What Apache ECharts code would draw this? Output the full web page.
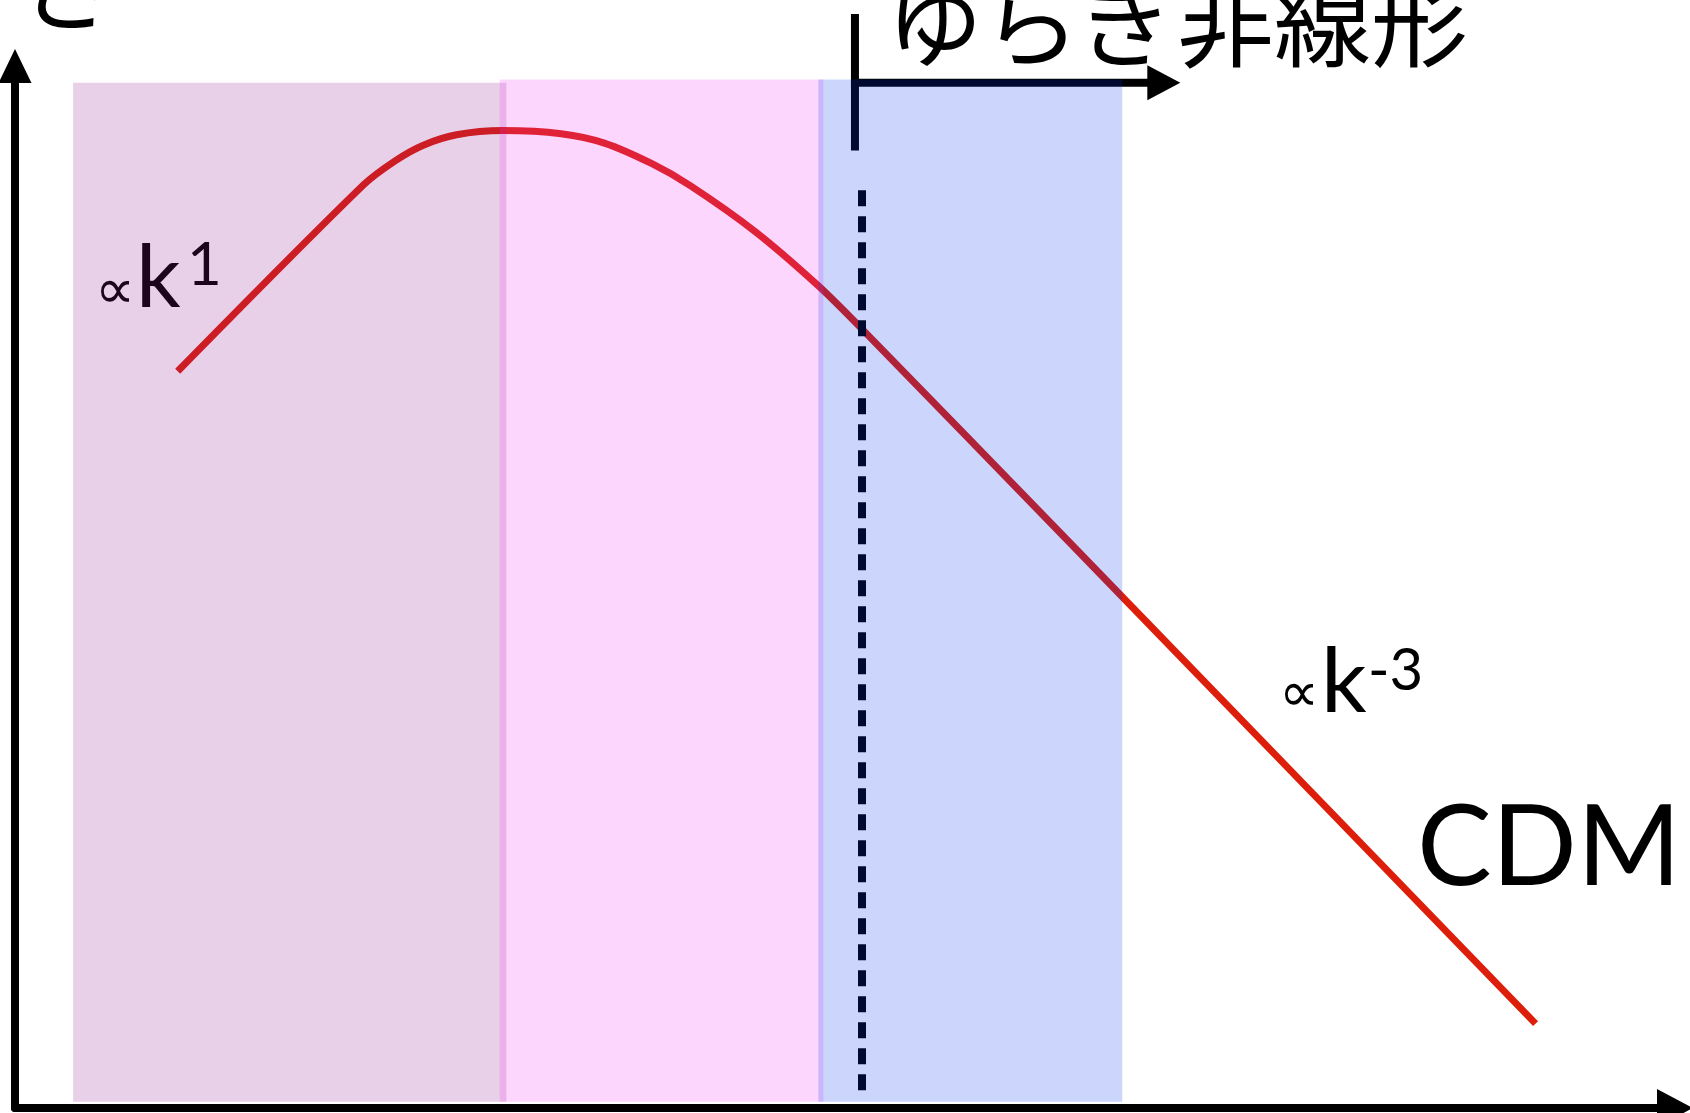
<!DOCTYPE html>
<html>
<head>
<meta charset="utf-8">
<script src="https://cdn.jsdelivr.net/npm/echarts@6/dist/echarts.min.js"></script>
<style>
html, body { margin: 0; padding: 0; background: #fff; }
#main { width: 1690px; height: 1113px; }
</style>
</head>
<body>
<div id="main"></div>
<script>
// power spectrum sketch, arbitrary units (0-100 on both axes)
var curveK = [9.8, 21.0, 22.9, 24.6, 26.6, 29.4, 32.9, 35.5, 38.4, 40.7, 44.6, 48.4, 51.0, 64.0, 91.6];
var curveP = [70.7, 88.6, 90.9, 92.4, 93.4, 93.8, 93.5, 92.6, 90.6, 88.5, 84.1, 78.9, 74.8, 53.5, 8.1];

var bandStart = [3.5, 29.2, 48.4];
var bandEnd = [29.6, 48.7, 66.7];
var bandTop = [98.4, 98.7, 98.7];
var bandBottom = 0.6;

var nonlinearK = 51.0;       // dashed line
var dashFrom = 1.7, dashTo = 88.1;
var bracketK = 50.6, bracketTop = 105.0, bracketBottom = 91.9;
var arrowP = 98.4, arrowEndK = 70.2;

var chartDom = document.getElementById('main');
var myChart = echarts.init(chartDom);
var option;

var bandColors = ['rgba(140,20,140,0.2)', 'rgba(240,50,240,0.2)', 'rgba(0,50,240,0.2)'];

option = {
    animation: false,
    grid: { left: 15, right: 15, top: 66, bottom: 5, outerBoundsMode: 'none' },
    xAxis: {
        type: 'value', min: 0, max: 100,
        axisLine: { lineStyle: { color: '#000', width: 8 }, symbol: ['none', 'triangle'], symbolSize: [38, 36] },
        axisTick: { show: false }, axisLabel: { show: false }, splitLine: { show: false }
    },
    yAxis: {
        type: 'value', min: 0, max: 100,
        axisLine: { lineStyle: { color: '#000', width: 8 }, symbol: ['none', 'triangle'], symbolSize: [33, 34] },
        axisTick: { show: false }, axisLabel: { show: false }, splitLine: { show: false }
    },
    series: [
        {
            type: 'line',
            z: 2,
            smooth: 0.3,
            symbol: 'none',
            data: curveK.map(function (k, i) { return [k, curveP[i]]; }),
            lineStyle: { color: '#dc1e0a', width: 7 },
            markLine: {
                silent: true,
                symbol: 'none',
                label: { show: false },
                lineStyle: { color: '#000', width: 8, type: [16, 10] },
                data: [[{ coord: [nonlinearK, dashFrom] }, { coord: [nonlinearK, dashTo] }]]
            }
        },
        {
            type: 'custom',
            z: 10,
            silent: true,
            data: bandStart.map(function (s, i) { return [s, bandEnd[i], bandTop[i]]; }),
            encode: { x: [0, 1], y: 2 },
            renderItem: function (params, api) {
                var p0 = api.coord([api.value(0), api.value(2)]);
                var p1 = api.coord([api.value(1), bandBottom]);
                return {
                    type: 'rect',
                    shape: { x: p0[0], y: p0[1], width: p1[0] - p0[0], height: p1[1] - p0[1] },
                    style: { fill: bandColors[params.dataIndex] }
                };
            }
        }
    ]
};

option && myChart.setOption(option);

// annotations
var toPx = function (k, p) { return myChart.convertToPixel({ gridIndex: 0 }, [k, p]); };
var bTop = toPx(bracketK, bracketTop);
var bBot = toPx(bracketK, bracketBottom);
var aL = toPx(bracketK, arrowP);
var aR = toPx(arrowEndK, arrowP);

var jp = '97px "Noto Sans CJK JP"';

myChart.setOption({
    graphic: [
        { type: 'line', z: 1, shape: { x1: bTop[0], y1: bTop[1], x2: bBot[0], y2: bBot[1] }, style: { stroke: '#000', lineWidth: 8 } },
        { type: 'line', z: 1, shape: { x1: aL[0] - 4, y1: aL[1], x2: aR[0] - 30, y2: aR[1] }, style: { stroke: '#000', lineWidth: 8 } },
        { type: 'polygon', z: 1, shape: { points: [[aR[0], aR[1]], [aR[0] - 33, aR[1] - 17.5], [aR[0] - 33, aR[1] + 17.5]] }, style: { fill: '#000' } },

        { type: 'text', z: 1, x: 117, y: -14, style: { text: 'ゆらぎの大きさ', font: jp, fill: '#000', align: 'right', verticalAlign: 'middle' } },
        { type: 'text', z: 1, x: 886, y: 22, style: { text: 'ゆらぎ非線形', font: jp, fill: '#000', align: 'left', verticalAlign: 'middle' } },

        { type: 'text', z: 1, x: 95, y: 293, style: { text: '∝', font: '56px "DejaVu Sans"', fill: '#000', verticalAlign: 'middle' } },
        { type: 'text', z: 1, x: 136, y: 279, style: { text: 'k', font: '88px Lato', fill: '#000', verticalAlign: 'middle' } },
        { type: 'text', z: 1, x: 187, y: 266, style: { text: '1', font: '60px Lato', fill: '#000', verticalAlign: 'middle' } },

        { type: 'text', z: 1, x: 1279, y: 696, style: { text: '∝', font: '56px "DejaVu Sans"', fill: '#000', verticalAlign: 'middle' } },
        { type: 'text', z: 1, x: 1321, y: 683, style: { text: 'k', font: '90px Lato', fill: '#000', verticalAlign: 'middle' } },
        { type: 'text', z: 1, x: 1368, y: 671, style: { text: '-3', font: '58px Lato', fill: '#000', verticalAlign: 'middle' } },

        { type: 'text', z: 1, x: 1417, y: 849, style: { text: 'CDM', font: '112px Lato', fill: '#000', verticalAlign: 'middle' } }
    ]
});
</script>
</body>
</html>
